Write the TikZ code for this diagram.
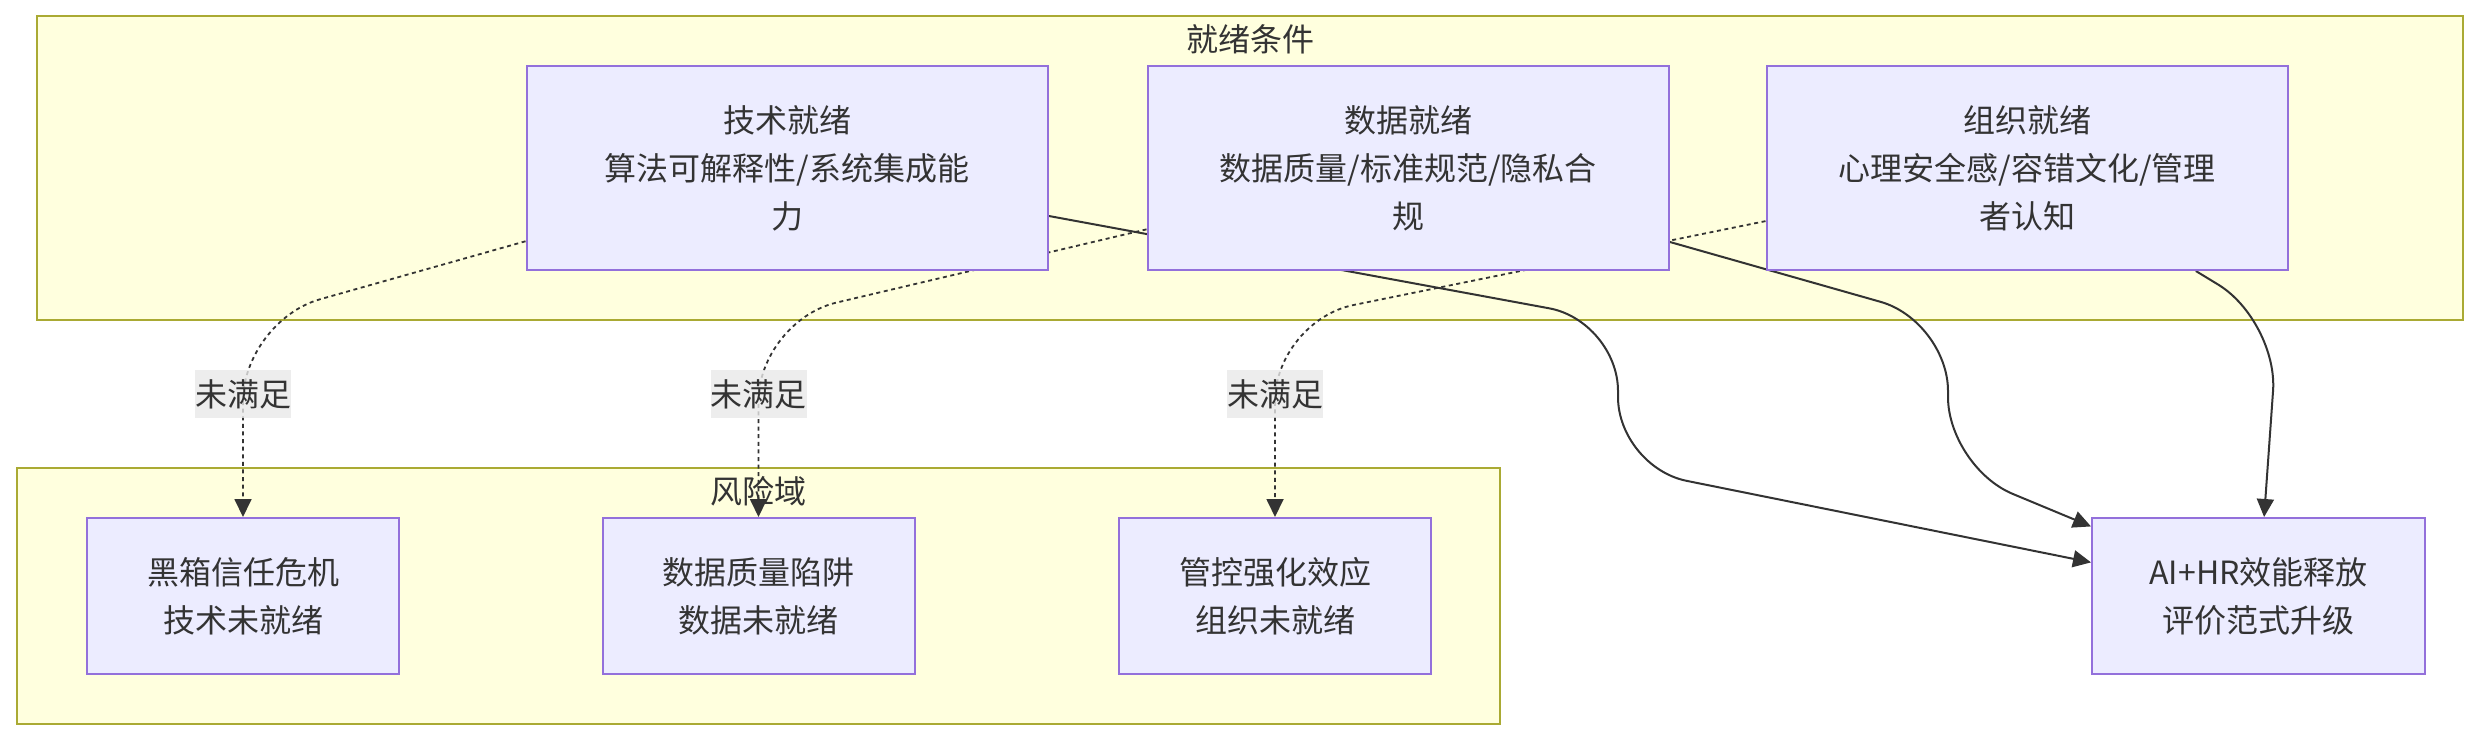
\documentclass[tikz,border=0pt]{standalone}
\usepackage{fontspec}
\setmainfont{Noto Sans CJK SC}
\usepackage{tikz}
\usetikzlibrary{arrows.meta, positioning, calc}

\definecolor{clfill}{HTML}{FFFFDE}
\definecolor{clline}{HTML}{AAAA33}
\definecolor{boxfill}{HTML}{ECECFF}
\definecolor{boxline}{HTML}{9370DB}
\definecolor{ink}{HTML}{333333}
\definecolor{lblfill}{HTML}{E8E8E8}

\pgfdeclarelayer{back}
\pgfdeclarelayer{edges}
\pgfsetlayers{back,edges,main}

\begin{document}
\begin{tikzpicture}[
  x=0.5pt, y=0.5pt,
  font=\fontsize{16pt}{24pt}\selectfont, text=ink,
  cluster/.style={draw=clline, fill=clfill, line width=1pt, inner sep=0pt},
  ctitle/.style={inner sep=0pt, minimum height=24pt},
  box/.style={draw=boxline, fill=boxfill, line width=1pt, align=center,
              inner sep=0pt},
  upper/.style={box, minimum width=260.5pt, minimum height=102pt},
  lower/.style={box, minimum width=156pt, minimum height=78pt},
  arr/.style={-{Triangle[length=9pt, width=8.5pt]}, ink, line width=1pt,
              rounded corners=35pt},
  miss/.style={arr, line width=0.9pt, dash pattern=on 2pt off 1.8pt,
               rounded corners=40pt},
  lbl/.style={fill=lblfill, fill opacity=0.8, text opacity=1, inner sep=0pt,
              minimum height=24pt},
]
\useasboundingbox (0,0) rectangle (2479,-740);

% ---- Clusters ---------------------------------------------------------------
\begin{pgfonlayer}{back}
\node[cluster, minimum width=1213pt, minimum height=152pt] (ready) at (1250,-168) {};
\node[ctitle, below=0pt of ready.north] (readyT) {就绪条件};
\node[cluster, minimum width=741.5pt, minimum height=128pt] (risk) at (758.5,-596) {};
\node[ctitle, below=0pt of risk.north] (riskT) {风险域};
\end{pgfonlayer}

% ---- Readiness conditions -------------------------------------------------
\node[upper] (tech) at (787,-168) {技术就绪\\算法可解释性/系统集成能\\力};
\node[upper] (data) at (1408,-168) {数据就绪\\数据质量/标准规范/隐私合\\规};
\node[upper] (org)  at (2027,-168) {组织就绪\\心理安全感/容错文化/管理\\者认知};

% ---- Risks and outcome ------------------------------------------------------
\node[lower] (riskA) at (243,-596) {黑箱信任危机\\技术未就绪};
\node[lower] (riskB) at (758.5,-596) {数据质量陷阱\\数据未就绪};
\node[lower] (riskC) at (1275,-596) {管控强化效应\\组织未就绪};
\node[lower, minimum width=166.5pt] (goal) at (2258.5,-596) {AI+HR效能释放\\评价范式升级};

% ---- Lanes ------------------------------------------------------------------
\coordinate (gap) at ($(ready.south)!0.5!(risk.north)$);
\coordinate (laneT) at (1618,-394);
\coordinate (laneD) at (1948,-394);
\coordinate (laneO) at (2278,-394);

% ---- Edges ------------------------------------------------------------------
\begin{pgfonlayer}{edges}
\draw[miss] (tech) -- (riskA |- ready.south) -- (riskA);
\draw[miss] (data) -- (riskB |- ready.south) -- (riskB);
\draw[miss] (org) -- (riskC |- ready.south) -- (riskC);
\draw[arr] (tech) -- (laneT |- ready.south) -- (laneT |- risk.north) -- (goal);
\draw[arr] (data) -- (laneD |- ready.south) -- (laneD |- risk.north) -- (goal);
\draw[arr] (org) -- (laneO |- ready.south) -- (goal);
\end{pgfonlayer}

% ---- Edge labels ------------------------------------------------------------
\node[lbl] (missA) at (riskA |- gap) {未满足};
\node[lbl] (missB) at (riskB |- gap) {未满足};
\node[lbl] (missC) at (riskC |- gap) {未满足};

\end{tikzpicture}
\end{document}
